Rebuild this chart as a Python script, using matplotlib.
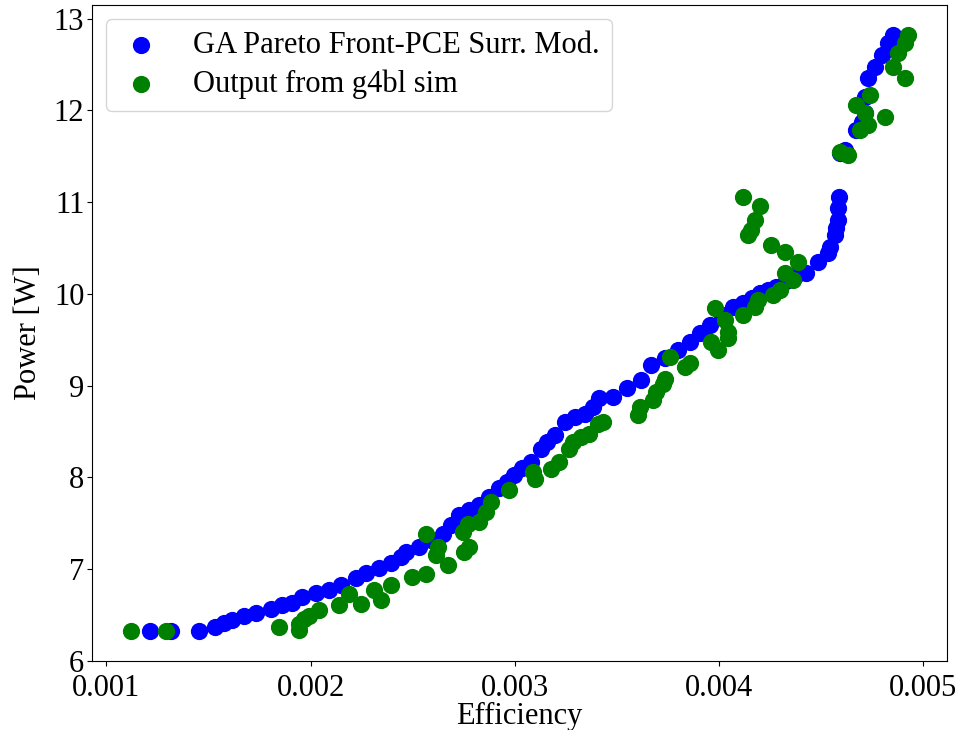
import matplotlib

matplotlib.use("Agg")
import matplotlib.pyplot as plt

# GA Pareto front predicted by the PCE surrogate model
ga_eff = [
    0.001213, 0.001316, 0.001454, 0.001533, 0.001577, 0.001616, 0.001675,
    0.001732, 0.001806, 0.001861, 0.001910, 0.001959, 0.002026, 0.002091,
    0.002149, 0.002222, 0.002271, 0.002336, 0.002394, 0.002443, 0.002467,
    0.002532, 0.002591, 0.002646, 0.002689, 0.002728, 0.002777, 0.002826,
    0.002875, 0.002924, 0.002963, 0.002998, 0.003037, 0.003080, 0.003129,
    0.003159, 0.003194, 0.003243, 0.003292, 0.003341, 0.003380, 0.003414,
    0.003478, 0.003547, 0.003619, 0.003668, 0.003733, 0.003798, 0.003855,
    0.003904, 0.003953, 0.004012, 0.004067, 0.004116, 0.004159, 0.004198,
    0.004237, 0.004280, 0.004326, 0.004378, 0.004427, 0.004484, 0.004533,
    0.004541, 0.004566, 0.004574, 0.004582, 0.004582, 0.004587, 0.004590,
    0.004615, 0.004672, 0.004697, 0.004713, 0.004713, 0.004729, 0.004762,
    0.004795, 0.004827, 0.004851,
]
ga_power = [
    6.322, 6.322, 6.322, 6.366, 6.406, 6.439, 6.483,
    6.519, 6.559, 6.603, 6.625, 6.690, 6.737, 6.766,
    6.821, 6.897, 6.952, 7.007, 7.061, 7.130, 7.185,
    7.239, 7.312, 7.385, 7.476, 7.585, 7.640, 7.694,
    7.782, 7.880, 7.945, 8.022, 8.098, 8.167, 8.313,
    8.382, 8.458, 8.604, 8.655, 8.695, 8.764, 8.862,
    8.876, 8.971, 9.059, 9.222, 9.299, 9.386, 9.477,
    9.572, 9.659, 9.768, 9.859, 9.896, 9.954, 10.005,
    10.041, 10.077, 10.139, 10.205, 10.224, 10.350, 10.442,
    10.514, 10.641, 10.715, 10.805, 10.933, 11.060, 11.534,
    11.570, 11.788, 11.879, 11.970, 12.152, 12.352, 12.479,
    12.607, 12.735, 12.825,
]

# same designs re-run through the g4bl simulation
sim_eff = [
    0.001120, 0.001294, 0.001846, 0.001941, 0.001944, 0.001969, 0.001993,
    0.002042, 0.002140, 0.002189, 0.002247, 0.002312, 0.002345, 0.002394,
    0.002498, 0.002565, 0.002565, 0.002614, 0.002622, 0.002671, 0.002744,
    0.002769, 0.002753, 0.002777, 0.002826, 0.002859, 0.002884, 0.002973,
    0.003087, 0.003096, 0.003178, 0.003218, 0.003267, 0.003283, 0.003325,
    0.003365, 0.003406, 0.003430, 0.003602, 0.003610, 0.003675, 0.003692,
    0.003724, 0.003733, 0.003757, 0.003831, 0.003855, 0.003962, 0.003994,
    0.003978, 0.004027, 0.004043, 0.004043, 0.004116, 0.004174, 0.004190,
    0.004263, 0.004296, 0.004321, 0.004361, 0.004386, 0.004321, 0.004256,
    0.004141, 0.004158, 0.004174, 0.004198, 0.004116, 0.004590, 0.004631,
    0.004672, 0.004688, 0.004713, 0.004729, 0.004737, 0.004811, 0.004851,
    0.004876, 0.004909, 0.004925, 0.004909,
]
sim_power = [
    6.322, 6.322, 6.366, 6.330, 6.403, 6.457, 6.493,
    6.548, 6.603, 6.730, 6.621, 6.774, 6.665, 6.821,
    6.912, 6.949, 7.385, 7.148, 7.239, 7.039, 7.402,
    7.494, 7.185, 7.239, 7.512, 7.621, 7.730, 7.865,
    8.057, 7.985, 8.095, 8.167, 8.313, 8.385, 8.440,
    8.477, 8.586, 8.604, 8.677, 8.767, 8.840, 8.931,
    9.022, 9.077, 9.313, 9.204, 9.241, 9.477, 9.386,
    9.841, 9.714, 9.586, 9.514, 9.768, 9.859, 9.932,
    9.987, 10.041, 10.224, 10.150, 10.350, 10.460, 10.533,
    10.641, 10.696, 10.805, 10.958, 11.060, 11.552, 11.515,
    12.061, 11.788, 11.970, 11.843, 12.170, 11.933, 12.479,
    12.625, 12.735, 12.825, 12.352,
]

plt.rcParams["font.family"] = ["Liberation Serif", "DejaVu Serif"]
plt.rcParams["font.size"] = 22

fig, ax = plt.subplots(figsize=(9.6, 7.3), dpi=100)
fig.subplots_adjust(left=92 / 960, right=947 / 960, bottom=1 - 661 / 730, top=1 - 5 / 730)

ax.scatter(ga_eff, ga_power, s=130, color="blue", label="GA Pareto Front-PCE Surr. Mod.")
ax.scatter(sim_eff, sim_power, s=130, color="green", label="Output from g4bl sim")

ax.set_xticks([0.001, 0.002, 0.003, 0.004, 0.005])
ax.tick_params(axis="x", pad=6)
ax.tick_params(axis="y", pad=2)
ax.set_xlabel("Efficiency")
ax.xaxis.set_label_coords(0.5, -(702 - 661) / 656)  # label sits tight under the ticks
ax.set_ylabel("Power [W]", labelpad=8)
ax.legend(loc="upper left", labelspacing=0.3, borderpad=0.4, handlelength=1.5,
          handletextpad=0.95, borderaxespad=0.45)

fig.savefig("out.png", dpi=100)
